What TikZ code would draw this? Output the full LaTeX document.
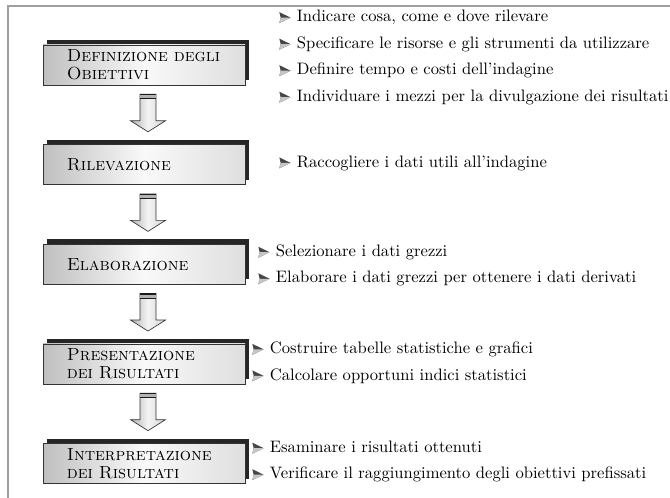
\documentclass[tikz,border=0pt]{standalone}
\usetikzlibrary{positioning, calc, shadows}
\newcommand{\pxu}{0.603pt}
\tikzstyle{stage}=[draw=gray!40!black, left color=gray!50, right color=gray!25, middle color=gray!5, minimum width=202*\pxu, minimum height=40*\pxu, text width=93pt, inner xsep=14.4pt, inner ysep=2pt, align=left, font=\scshape\fontsize{10.6}{10.9}\selectfont, general shadow={fill=gray!30!black, shadow xshift=4*\pxu, shadow yshift=5*\pxu}]
\tikzstyle{note}=[anchor=west, align=left, inner sep=0pt, font=\fontsize{10}{16}\selectfont]
\tikzstyle{flowarrow}=[draw=gray!40!black, left color=gray!60, right color=gray!35, middle color=gray!8]
% arrow-head bullet
\newcommand{\itm}{\tikz[baseline=0pt, x=1pt, y=1pt]{\fill[gray!55!black] (0,5.8) -- (6.8,2.5) -- (0,-0.8) -- (0.8,2.5) -- cycle; \fill[gray!45] (0.8,2.5) -- (6.8,2.5) -- (0,-0.8) -- cycle;}\hspace{3.8pt}}
\newcommand{\stagearrow}[2]{%
\draw[flowarrow] ($(#1.south)+(-4,9)$) -- ($(#1.south)+(12,9)$) |- ($(#2.north)+(21.5,-23.5)$) -- ($(#2.north)+(4,-12.5)$) -- ($(#2.north)+(-13.5,-23.5)$) -- ($(#2.north)+(-4,-23.5)$) -- cycle;
\fill[gray!60] ($(#1.south)+(-4,9)$) rectangle ($(#1.south)+(12,13.5)$);
\draw[gray!20!black, line width=0.8pt] ($(#1.south)+(-4,9.5)$) -- ($(#1.south)+(12,9.5)$);
\draw[gray!20!black] ($(#1.south)+(-4,13.5)$) -- ($(#1.south)+(12,13.5)$);}

\begin{document}
\begin{tikzpicture}[x=\pxu, y=-\pxu]
\useasboundingbox (0,0) rectangle (670,498);
\draw[gray!75, line width=0.9pt] (8,498) -- (8,6) -- (670,6);

\node[stage] (obiettivi) at (144,65) {Definizione degli\\Obiettivi};
\node[stage] (rilevazione) at (144,164.6) {Rilevazione};
\node[stage] (elaborazione) at (144,264.2) {Elaborazione};
\node[stage] (presentazione) at (144,363.9) {Presentazione\\dei Risultati};
\node[stage] (interpretazione) at (144,463.5) {Interpretazione\\dei Risultati};

\stagearrow{obiettivi}{rilevazione}
\stagearrow{rilevazione}{elaborazione}
\stagearrow{elaborazione}{presentazione}
\stagearrow{presentazione}{interpretazione}

\node[note] (obiettivi_txt) at (279,57.5) {\itm Indicare cosa, come e dove rilevare\\
\itm Specificare le risorse e gli strumenti da utilizzare\\
\itm Definire tempo e costi dell'indagine\\
\itm Individuare i mezzi per la divulgazione dei risultati};
\node[note] (rilevazione_txt) at (279,163) {\itm Raccogliere i dati utili all'indagine};
\node[note] (elaborazione_txt) at (258,265.5) {\itm Selezionare i dati grezzi\\
\itm Elaborare i dati grezzi per ottenere i dati derivati};
\node[note] (presentazione_txt) at (252,362.5) {\itm Costruire tabelle statistiche e grafici\\
\itm Calcolare opportuni indici statistici};
\node[note] (interpretazione_txt) at (252,461.5) {\itm Esaminare i risultati ottenuti\\
\itm Verificare il raggiungimento degli obiettivi prefissati};
\end{tikzpicture}
\end{document}
